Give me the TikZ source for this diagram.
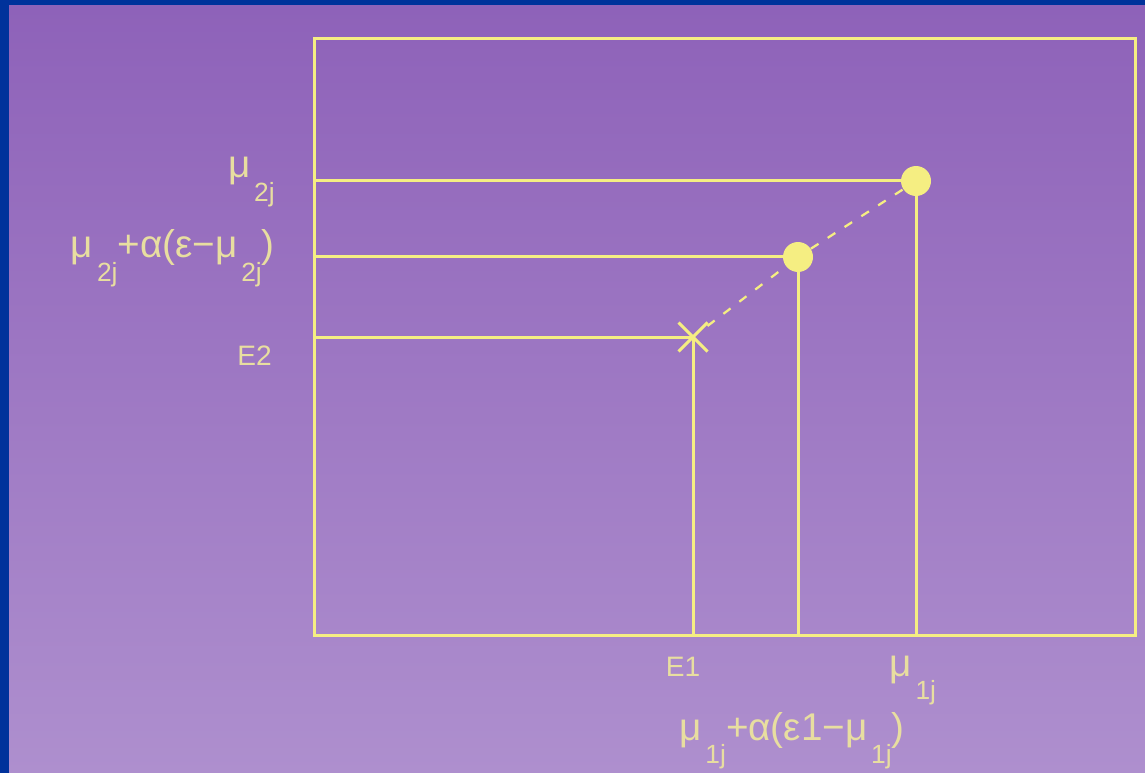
\documentclass[tikz,border=0pt]{standalone}
\usepackage{fontspec}
\setmainfont{Liberation Sans}
\usepackage{tikz}
\usetikzlibrary{shapes.misc,positioning}
\definecolor{bleuBord}{RGB}{0,50,155}
\definecolor{violetHaut}{RGB}{142,98,185}
\definecolor{violetBas}{RGB}{174,143,206}
\definecolor{jauneTrait}{RGB}{245,238,130}
\definecolor{sableTexte}{RGB}{232,222,160}
\newcommand\indice[1]{\kern0.1em\raisebox{-0.6em}{\fontsize{15}{15}\selectfont #1}}

\begin{document}
\begin{tikzpicture}[x=0.02cm, y=-0.02cm,
  trait/.style={jauneTrait, line width=0.06cm},
  cadre/.style={draw=jauneTrait, line width=0.06cm, inner sep=0pt,
                minimum width=16.44cm, minimum height=11.96cm},
  point/.style={circle, fill=jauneTrait, inner sep=0pt, minimum size=0.6cm},
  croix/.style={cross out, draw=jauneTrait, line width=0.06cm, inner sep=0pt,
                minimum size=0.52cm},
  pointille/.style={jauneTrait, line width=0.045cm, dash pattern=on 0.18cm off 0.22cm},
  etiquette/.style={text=sableTexte, inner sep=0pt, font=\fontsize{16}{19}\selectfont},
  formule/.style={etiquette, font=\fontsize{22}{26}\selectfont}]

  \useasboundingbox (0,0) rectangle (1145,773);
  \fill[bleuBord] (0,0) rectangle (1145,773);
  \shade[top color=violetHaut, bottom color=violetBas] (9,6) rectangle (1145,773);

  \node[cadre] (cadre) at (725,337) {};

  \node[point] (P0) at (916,181) {};
  \node[point] (P1) at (798,257) {};
  \node[croix] (E) at (693,337) {};

  \draw[trait] (P0) -- (P0 -| cadre.west);
  \draw[trait] (P0) -- (P0 |- cadre.south);
  \draw[trait] (P1) -- (P1 -| cadre.west);
  \draw[trait] (P1) -- (P1 |- cadre.south);
  \draw[trait] (E.center) -- (E.center -| cadre.west);
  \draw[trait] (E.center) -- (E.center |- cadre.south);

  \draw[pointille] (E) -- (P1);
  \draw[pointille] (P1) -- (P0);

  % labels on the left
  \node[formule, anchor=base east] (mu2) at (275,178) {μ\indice{2j}};
  \node[formule, anchor=base east] (pas2) at (275,258)
    {μ\indice{2j}+α(ε−μ\indice{2j})};
  \node[etiquette, anchor=base east] (E2) at (272,365) {E2};

  % labels below
  \node[etiquette, anchor=base] (E1) at (683,676) {E1};
  \node[formule, anchor=base west] (mu1) at (889,676) {μ\indice{1j}};
  \node[formule, anchor=base west] (pas1) at (679,740)
    {μ\indice{1j}+α(ε1−μ\indice{1j})};
\end{tikzpicture}
\end{document}
